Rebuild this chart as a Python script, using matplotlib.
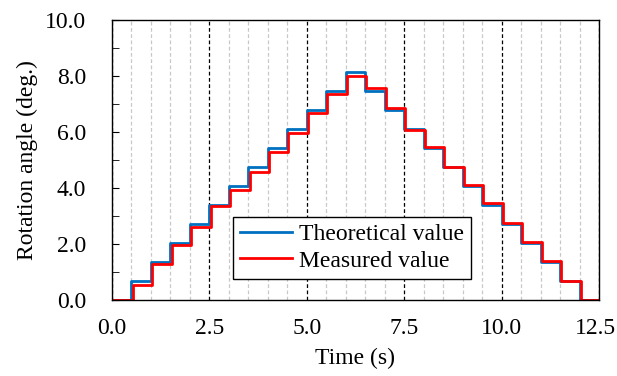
import numpy as np
import matplotlib.pyplot as plt
import matplotlib.transforms as mtransforms
from matplotlib.ticker import MultipleLocator

# step edges (s), 25 intervals of 0.5 s
time_edges = np.arange(0, 12.51, 0.5)

theoretical = [0.00, 0.68, 1.36, 2.04, 2.72, 3.40, 4.08, 4.76, 5.44, 6.12, 6.80, 7.48, 8.16,
               7.48, 6.80, 6.12, 5.44, 4.76, 4.08, 3.40, 2.72, 2.04, 1.36, 0.68, 0.00]
measured = [0.00, 0.52, 1.29, 1.96, 2.62, 3.37, 3.93, 4.58, 5.29, 5.97, 6.69, 7.36, 7.99,
            7.57, 6.85, 6.08, 5.45, 4.74, 4.11, 3.45, 2.74, 2.08, 1.40, 0.68, 0.00]
meas_delay = 0.03

plt.rcParams['font.family'] = ['Liberation Serif', 'DejaVu Serif']
plt.rcParams['font.size'] = 17

fig = plt.figure(figsize=(6.17, 3.76), dpi=100)
ax = fig.add_axes([112 / 617, 76 / 376, 487 / 617, 280 / 376])

# vertical grid
ax.xaxis.set_major_locator(MultipleLocator(2.5))
ax.xaxis.set_minor_locator(MultipleLocator(0.5))
ax.grid(which='minor', axis='x', color='#c8c8c8', linestyle=(0, (3, 2)), linewidth=0.9)
ax.grid(which='major', axis='x', color='black', linestyle=(0, (3, 2)), linewidth=0.9)
ax.set_axisbelow(True)

th_y = theoretical + [theoretical[-1]]
me_y = measured + [measured[-1]]
me_t = time_edges + meas_delay
me_t[0] = 0
me_t[-1] = 12.5
ax.step(time_edges, th_y, where='post', color='#0070C0', linewidth=2.0, label='Theoretical value')
ax.step(me_t, me_y, where='post', color='#FF0000', linewidth=2.0, label='Measured value')

ax.set_xlim(0, 12.5)
ax.set_ylim(0, 10)
ax.yaxis.set_major_locator(MultipleLocator(2))
ax.yaxis.set_minor_locator(MultipleLocator(1))
ax.xaxis.set_major_formatter(plt.FuncFormatter(lambda v, p: '%.1f' % v))
ax.yaxis.set_major_formatter(plt.FuncFormatter(lambda v, p: '%.1f' % v))
ax.tick_params(axis='x', which='both', length=0, pad=13)
ax.tick_params(axis='y', which='major', direction='in', length=5, pad=18.5)
ax.tick_params(axis='y', which='minor', direction='in', length=5)
for s in ax.spines.values():
    s.set_linewidth(1.0)

ax.set_xlabel('Time (s)', labelpad=6)
ax.set_ylabel('Rotation angle (deg.)', labelpad=5)

leg = ax.legend(loc='upper left', bbox_to_anchor=(0.248, 0.297),
                frameon=True, fancybox=False, framealpha=1, edgecolor='black',
                handlelength=2.2, borderaxespad=0, borderpad=0.3, labelspacing=0.2,
                handletextpad=0.3)
leg.get_frame().set_linewidth(1.0)

# nudge last x label so it stays inside the figure
fig.canvas.draw()
last = ax.xaxis.get_major_ticks()[-1].label1
shift = mtransforms.ScaledTranslation(-4 / 100, 0, fig.dpi_scale_trans)
for t in ax.xaxis.get_major_ticks():
    if t.label1.get_text() == '12.5':
        t.label1.set_transform(t.label1.get_transform() + shift)

fig.savefig('out.png', dpi=100)
